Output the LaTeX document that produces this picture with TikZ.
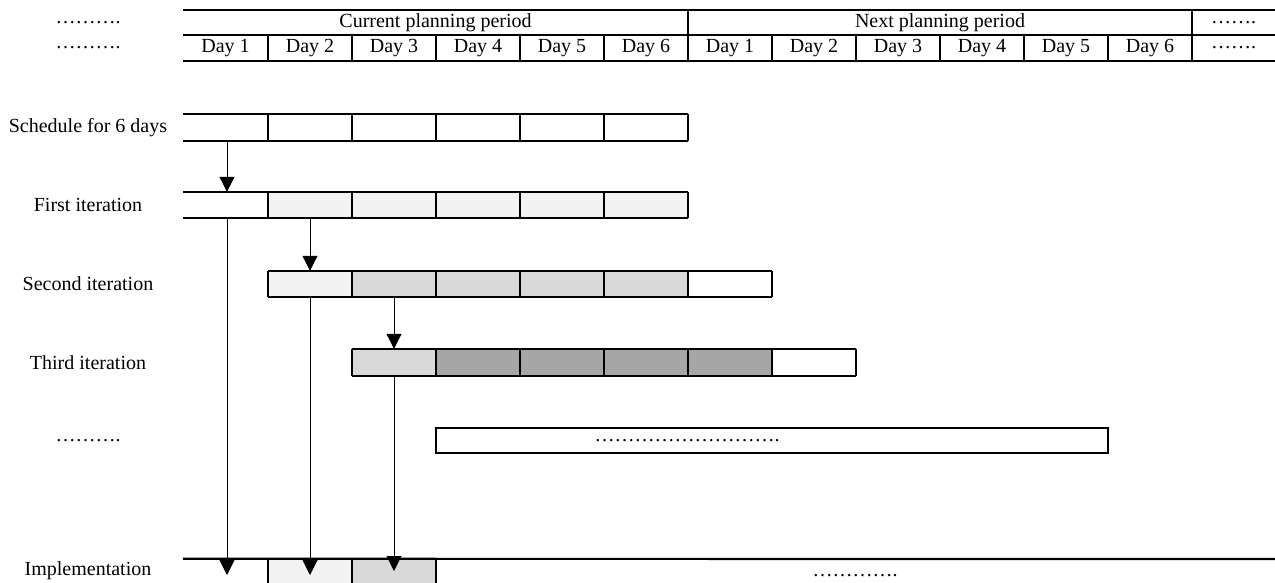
\documentclass[tikz,border=0pt]{standalone}
\usepackage{fontspec}
\setmainfont{Liberation Serif}
\usetikzlibrary{arrows.meta}
\definecolor{gA}{HTML}{F2F2F2}
\definecolor{gB}{HTML}{D9D9D9}
\definecolor{gC}{HTML}{A6A6A6}
\begin{document}
\begin{tikzpicture}[x=1pt,y=-1pt,
  txt/.style={font=\fontsize{20}{23}\selectfont, inner sep=0pt},
  cell/.style={minimum width=84pt, minimum height=26pt, inner sep=0pt, draw=none},
  bline/.style={line width=2.2pt},
  arr/.style={line width=1pt, -{Triangle[width=15pt,length=15pt]}}]
\useasboundingbox (0,0) rectangle (1275,583);

% ---------- header ----------
\node[txt] (lb1) at (88,22.5) {……….};
\node[txt] (lb2) at (88,48) {……….};
\node[txt] (cur) at (435.5,22.5) {Current planning period};
\node[txt] (nxt) at (940,22.5) {Next planning period};
\node[txt] (hd1) at (1233.5,22.5) {…….};
\foreach \i/\x/\d in {1/225.5/1,2/310/2,3/394/3,4/478/4,5/562/5,6/646/6,
                      7/730/1,8/814/2,9/898/3,10/982/4,11/1066/5,12/1150/6}
  \node[txt] (h\i) at (\x,48) {Day \d};
\node[txt] (hd2) at (1233.5,48) {…….};
\draw[bline] (183,10) -- (1275,10);
\draw[bline] (183,35) -- (1275,35);
\draw[bline] (183,61) -- (1275,61);
\draw[bline] (688,10) -- (688,35);
\draw[bline] (1192,10) -- (1192,35);
\foreach \x in {268,352,436,520,604,688,772,856,940,1024,1108,1192}
  \draw[bline] (\x,35) -- (\x,61);

% ---------- row labels ----------
\node[txt] (l1) at (88,127.5) {Schedule for 6 days};
\node[txt] (l2) at (88,205) {First iteration};
\node[txt] (l3) at (88,284) {Second iteration};
\node[txt] (l4) at (88,362.5) {Third iteration};
\node[txt] (l5) at (88,441) {……….};
\node[txt] (l6) at (88,571) {Implementation};

% ---------- schedule ----------
\node[cell,minimum width=85pt,minimum height=27pt] (s1) at (225.5,127.5) {};
\foreach \i/\x in {2/310,3/394,4/478,5/562,6/646}
  \node[cell,minimum height=27pt] (s\i) at (\x,127.5) {};
\draw[bline] (s1.north west) -- (s6.north east);
\draw[bline] (s1.south west) -- (s6.south east);
\foreach \i in {1,...,6} \draw[bline] (s\i.north east) -- (s\i.south east);

% ---------- first iteration ----------
\node[cell,minimum width=85pt] (f1) at (225.5,205) {};
\foreach \i/\x in {2/310,3/394,4/478,5/562,6/646}
  \node[cell,fill=gA] (f\i) at (\x,205) {};
\draw[bline] (f1.north west) -- (f6.north east);
\draw[bline] (f1.south west) -- (f6.south east);
\foreach \i in {1,...,6} \draw[bline] (f\i.north east) -- (f\i.south east);

% ---------- second iteration ----------
\node[cell,fill=gA] (q2) at (310,284) {};
\foreach \i/\x in {3/394,4/478,5/562,6/646}
  \node[cell,fill=gB] (q\i) at (\x,284) {};
\node[cell] (q7) at (730,284) {};
\draw[bline] (q2.north west) -- (q7.north east);
\draw[bline] (q2.south west) -- (q7.south east);
\draw[bline] (q2.north west) -- (q2.south west);
\foreach \i in {2,...,7} \draw[bline] (q\i.north east) -- (q\i.south east);

% ---------- third iteration ----------
\node[cell,fill=gB,minimum height=27pt] (t3) at (394,362.5) {};
\foreach \i/\x in {4/478,5/562,6/646,7/730}
  \node[cell,fill=gC,minimum height=27pt] (t\i) at (\x,362.5) {};
\node[cell,minimum height=27pt] (t8) at (814,362.5) {};
\draw[bline] (t3.north west) -- (t8.north east);
\draw[bline] (t3.south west) -- (t8.south east);
\draw[bline] (t3.north west) -- (t3.south west);
\foreach \i in {3,...,8} \draw[bline] (t\i.north east) -- (t\i.south east);

% ---------- further iterations ----------
\node[bline,draw,minimum width=672pt,minimum height=25pt,inner sep=0pt] (dbox) at (772,440.5) {};
\node[txt] (dtx) at (687,441) {……………………….};

% ---------- implementation ----------
\node[cell,minimum width=85pt,minimum height=28pt] (m1) at (225.5,573) {};
\node[cell,fill=gA,minimum height=28pt] (m2) at (310,573) {};
\node[cell,fill=gB,minimum height=28pt] (m3) at (394,573) {};
\draw[bline] (m1.north west) -- (1275,559);
\draw[bline] (m2.north west) -- (m2.south west);
\foreach \i in {2,3} \draw[bline] (m\i.north east) -- (m\i.south east);
\node[txt] (mtx) at (855,576) {………….};

% ---------- arrows ----------
\coordinate (e1) at (227,575);
\coordinate (e2) at (310,575);
\coordinate (e3) at (394,571);
\draw[arr] ([xshift=1.5pt]s1.south) -- ([xshift=1.5pt]f1.north);
\draw[arr] ([xshift=1.5pt]f1.south) -- (e1);
\draw[arr] (f2.south) -- (q2.north);
\draw[arr] (q2.south) -- (e2);
\draw[arr] (q3.south) -- (t3.north);
\draw[arr] (t3.south) -- (e3);
\end{tikzpicture}
\end{document}
